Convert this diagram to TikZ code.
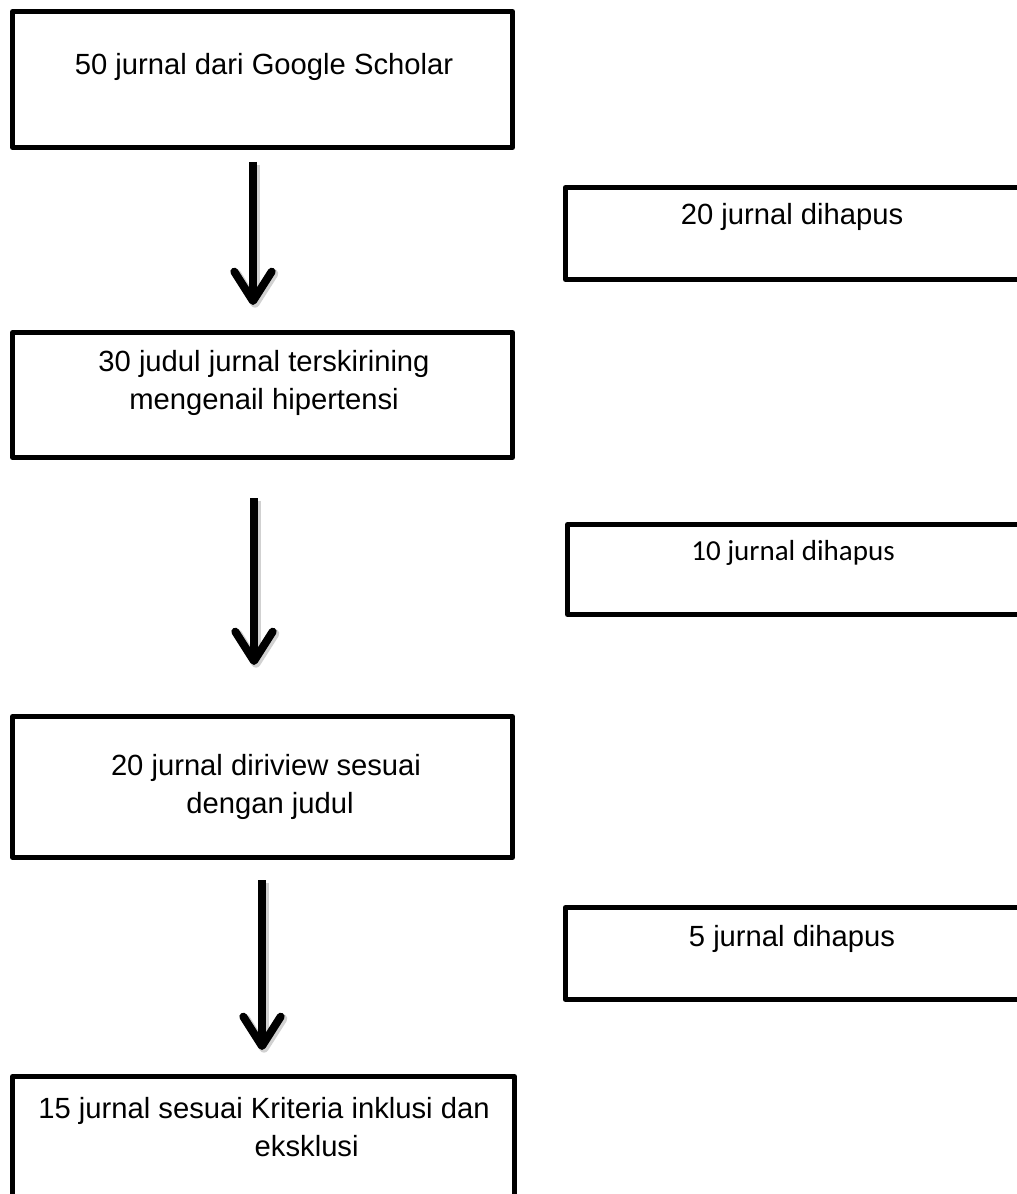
\documentclass[tikz,border=0pt]{standalone}
\usepackage{fontspec}
\setmainfont{Liberation Sans}
\newfontfamily\arialfont{Liberation Sans}
\newfontfamily\calibrifont{Carlito}
\usetikzlibrary{arrows.meta}
\begin{document}
\begin{tikzpicture}[x=0.75pt,y=-0.75pt,
  box/.style={draw=black, line width=3.75pt, inner sep=0pt, line join=round},
  txt/.style={font=\arialfont\fontsize{21.9}{28.5}\selectfont, align=center, inner sep=0pt},
  arr/.style={line width=6pt, line cap=butt, -{Straight Barb[length=22pt,width=28pt,line width=6pt,round]}},
  arrshadow/.style={draw=black!18, line width=7pt, line cap=butt, transform canvas={shift={(1.5pt,-2pt)}}, -{Straight Barb[length=22pt,width=28pt,line width=7pt,round]}}]
\useasboundingbox (0,0) rectangle (1016,1194);
% main boxes
\node[box, minimum width=375pt, minimum height=102pt] (b1) at (262.5,79.5) {};
\node[box, minimum width=375pt, minimum height=93.75pt] (b2) at (262.5,395) {};
\node[box, minimum width=375pt, minimum height=105.75pt] (b3) at (262.5,787) {};
\node[box, minimum width=376.5pt, minimum height=115.1pt] (b4) at (263.5,1153.25) {};
% side boxes
\node[box, minimum width=356pt, minimum height=69pt] (r1) at (802.75,233.5) {};
\node[box, minimum width=354.4pt, minimum height=67.5pt] (r2) at (803.75,569.5) {};
\node[box, minimum width=356pt, minimum height=69pt] (r3) at (802.75,953.5) {};
% texts
\node[txt] (t1) at (264,67) {50 jurnal dari Google Scholar};
\node[txt] (t2) at (264,382.5) {30 judul jurnal terskirining\\mengenail hipertensi};
\node[txt] (t3) at (266,787) {20 jurnal diriview sesuai\\\hspace*{6pt}dengan judul};
\node[txt] (t4) at (264,1127.5) {15 jurnal sesuai Kriteria inklusi dan\\\hspace*{64pt}eksklusi};
\node[txt] (s1) at (792,217) {20 jurnal dihapus};
\node[txt, font=\calibrifont\fontsize{21.75}{28}\selectfont] (s2) at (793,553) {10 jurnal dihapus};
\node[txt] (s3) at (792,939) {5 jurnal dihapus};
% arrows
\coordinate (a1s) at (253,162);
\coordinate (a1e) at (253,305);
\coordinate (a2s) at (254,498);
\coordinate (a2e) at (254,665);
\coordinate (a3s) at (262,880);
\coordinate (a3e) at (262,1050);
\draw[arrshadow] (a1s) -- (a1e);
\draw[arrshadow] (a2s) -- (a2e);
\draw[arrshadow] (a3s) -- (a3e);
\draw[arr] (a1s) -- (a1e);
\draw[arr] (a2s) -- (a2e);
\draw[arr] (a3s) -- (a3e);
\end{tikzpicture}
\end{document}
